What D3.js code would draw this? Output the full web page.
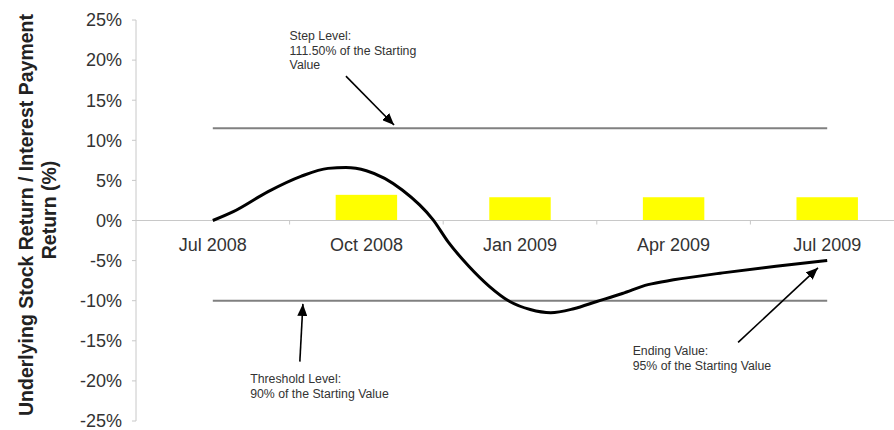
<!DOCTYPE html>
<html>
<head>
<meta charset="utf-8">
<script src="https://cdn.jsdelivr.net/npm/d3@7"></script>
<style>
  body { margin: 0; background: #fff; }
  text { font-family: "Liberation Sans", Arial, sans-serif; }
</style>
</head>
<body>
<svg id="chart" width="894" height="430"></svg>
<script>
// ---- data ----
const quarters = ["Jul 2008", "Oct 2008", "Jan 2009", "Apr 2009", "Jul 2009"];
const payments = [null, 3.2, 2.9, 2.9, 2.9];            // interest payment return (%)
// stock return path, month offsets from Jul 2008
const pathMonths  = [0, 0.4, 1.08, 1.72, 2.25, 2.6, 3.0, 3.7, 4.3, 4.6, 5.0, 5.4, 5.8, 6.2, 6.6, 7.05, 7.5, 8.0, 8.5, 9.0, 10, 11, 12];
const pathReturns = [0, 1.1, 3.6, 5.5, 6.5, 6.6, 6.2, 3.8, 0.1, -2.7, -5.7, -8.2, -10.1, -11.1, -11.5, -11.0, -10.1, -9.1, -8.0, -7.4, -6.5, -5.7, -5.0];
const stepLevel = 11.5;
const thresholdLevel = -10;
const yTicks = [-25, -20, -15, -10, -5, 0, 5, 10, 15, 20, 25];

// annotations (data coordinates: month, %)
const notes = [
  { lines: ["Step Level:", "111.50% of the Starting", "Value"], at: [1.5, 22.5], from: [2.6, 18.0], to: [3.54, 11.9] },
  { lines: ["Threshold Level:", "90% of the Starting Value"], at: [0.73, -20.3], from: [1.7, -17.6], to: [1.76, -10.4] },
  { lines: ["Ending Value:", "95% of the Starting Value"], at: [8.2, -16.8], from: [10.26, -15.2], to: [11.82, -5.9] }
];

// ---- layout ----
const svg = d3.select("#chart");
const plotLeft = 136, plotRight = 904, plotTop = 20, plotBottom = 421;

const x = d3.scaleBand().domain(quarters).range([plotLeft, plotRight]);
const y = d3.scaleLinear().domain([-25, 25]).range([plotBottom, plotTop]);
const xc = q => x(q) + x.bandwidth() / 2;
const xm = d3.scaleLinear().domain([0, 12]).range([xc(quarters[0]), xc(quarters[4])]);

const axisColor = "#c8c8c8";

// y axis
svg.append("line")
  .attr("x1", plotLeft).attr("x2", plotLeft)
  .attr("y1", y(25)).attr("y2", y(-25))
  .attr("stroke", axisColor);
yTicks.forEach(t => {
  svg.append("line")
    .attr("x1", plotLeft - 4).attr("x2", plotLeft)
    .attr("y1", y(t)).attr("y2", y(t))
    .attr("stroke", axisColor);
  svg.append("text")
    .attr("x", plotLeft - 14).attr("y", y(t)).attr("dy", "0.35em")
    .attr("text-anchor", "end")
    .attr("font-size", "18px").attr("fill", "#333")
    .text(t + "%");
});

// y title
svg.append("text")
  .attr("transform", "translate(33,215) rotate(-90)")
  .attr("text-anchor", "middle").attr("font-size", "19.5px")
  .attr("font-weight", "bold").attr("fill", "#222")
  .text("Underlying Stock Return / Interest Payment");
svg.append("text")
  .attr("transform", "translate(56,210) rotate(-90)")
  .attr("text-anchor", "middle").attr("font-size", "19.5px")
  .attr("font-weight", "bold").attr("fill", "#222")
  .text("Return (%)");

// bars (interest payments)
svg.append("g").selectAll("rect")
  .data(quarters.map((q, i) => ({ q, v: payments[i] })).filter(d => d.v != null))
  .join("rect")
  .attr("x", d => x(d.q) + x.bandwidth() * 0.3)
  .attr("width", x.bandwidth() * 0.4)
  .attr("y", d => y(d.v))
  .attr("height", d => y(0) - y(d.v))
  .attr("fill", "#ffff00");

// x axis at 0%
svg.append("line")
  .attr("x1", plotLeft).attr("x2", 894)
  .attr("y1", y(0)).attr("y2", y(0))
  .attr("stroke", axisColor);
quarters.slice(1).forEach(q => {
  svg.append("line")
    .attr("x1", x(q)).attr("x2", x(q))
    .attr("y1", y(0)).attr("y2", y(0) + 4)
    .attr("stroke", axisColor);
});
quarters.forEach(q => {
  svg.append("text")
    .attr("x", xc(q)).attr("y", y(0) + 30)
    .attr("text-anchor", "middle")
    .attr("font-size", "18px").attr("fill", "#333")
    .text(q);
});

// step & threshold levels
[stepLevel, thresholdLevel].forEach(v => {
  svg.append("line")
    .attr("x1", xm(0)).attr("x2", xm(12))
    .attr("y1", y(v)).attr("y2", y(v))
    .attr("stroke", "#808080").attr("stroke-width", 2);
});

// stock return line
const line = d3.line()
  .x((d, i) => xm(pathMonths[i]))
  .y(d => y(d))
  .curve(d3.curveMonotoneX);
svg.append("path")
  .attr("d", line(pathReturns))
  .attr("fill", "none")
  .attr("stroke", "#000")
  .attr("stroke-width", 3);

// arrows
svg.append("defs").append("marker")
  .attr("id", "arrow")
  .attr("viewBox", "0 0 12 10")
  .attr("refX", 12).attr("refY", 5)
  .attr("markerWidth", 12).attr("markerHeight", 10)
  .attr("markerUnits", "userSpaceOnUse")
  .attr("orient", "auto")
  .append("path").attr("d", "M0,0 L12,5 L0,10 z").attr("fill", "#000");

notes.forEach(n => {
  svg.append("line")
    .attr("x1", xm(n.from[0])).attr("y1", y(n.from[1]))
    .attr("x2", xm(n.to[0])).attr("y2", y(n.to[1]))
    .attr("stroke", "#000").attr("stroke-width", 1.6)
    .attr("marker-end", "url(#arrow)");
  const t = svg.append("text")
    .attr("x", xm(n.at[0])).attr("y", y(n.at[1]))
    .attr("font-size", "12.3px").attr("fill", "#333");
  n.lines.forEach((l, i) => {
    t.append("tspan").attr("x", xm(n.at[0])).attr("dy", i ? 14.5 : 0).text(l);
  });
});
</script>
</body>
</html>
